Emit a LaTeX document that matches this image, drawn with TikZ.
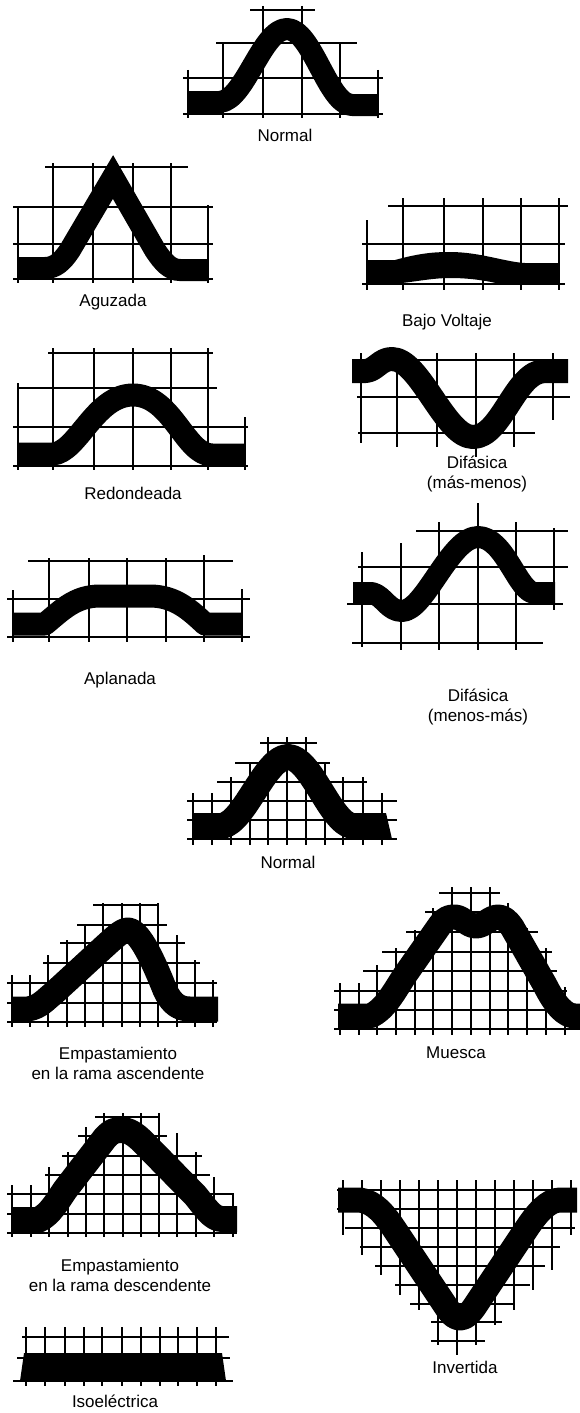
\documentclass[tikz,border=0pt]{standalone}
\usepackage{fontspec}
\setmainfont{Liberation Sans}
\begin{document}
\begin{tikzpicture}[x=1pt,y=-1pt,
  gridline/.style={line width=1.6pt},
  wave/.style={line width=23pt, line cap=butt, line join=round},
  lbl/.style={font=\fontsize{17}{20}\selectfont, align=center, inner sep=0pt}]
\useasboundingbox (0,0) rectangle (580,1413);

% ---------- Panel 1: Normal (top)
\foreach \x/\t in {188/70,223/43,263/6,302/6,340/43,378/70} \draw[gridline] (\x,\t) -- (\x,118);
\draw[gridline] (250,10) -- (315,10) (216,43) -- (357,43) (183,78) -- (383,78) (183,114) -- (383,114);
\draw[wave, line width=22pt] (188,102) -- (220,102) .. controls (245,100) and (262,29) .. (287,29) .. controls (312,29) and (328,105) .. (352,105) -- (378,105);
\node[lbl] (n1) at (285,135) {Normal};

% ---------- Panel 2: Aguzada
\foreach \x/\t in {18/207,53/163,93/163,133/163,171/163,208/205} \draw[gridline] (\x,\t) -- (\x,283);
\draw[gridline] (45,167) -- (188,167) (13,207) -- (213,207) (13,244) -- (213,244) (13,279) -- (213,279);
\draw[wave, line width=22pt, line join=miter] (18,268) -- (45,268) .. controls (55,268) and (62,262) .. (70,250) -- (113,177) -- (155,250) .. controls (163,262) and (170,270) .. (180,270) -- (208,270);
\node[lbl] (n2) at (113,302) {Aguzada};

% ---------- Panel 3: Bajo Voltaje
\foreach \x/\t in {367/220,403/198,444/198,483/198,521/198,559/198} \draw[gridline] (\x,\t) -- (\x,290);
\draw[gridline] (388,206) -- (568,206) (362,244) -- (565,244) (362,284) -- (565,284);
\fill (367,260) -- (395,260) .. controls (420,253) and (435,252) .. (450,252) .. controls (480,252) and (505,262) .. (525,263) -- (559,263) -- (559,284) -- (500,284) .. controls (480,279) and (462,278) .. (450,278) .. controls (430,278) and (410,283) .. (390,284) -- (367,284) -- cycle;
\node[lbl] (n3) at (447,322) {Bajo Voltaje};

% ---------- Panel 4: Redondeada
\foreach \x/\t/\b in {18/383/470,53/348/470,94/348/470,133/348/470,171/348/470,208/348/470,245/417/470} \draw[gridline] (\x,\t) -- (\x,\b);
\draw[gridline] (48,353) -- (213,353) (17,388) -- (217,388) (13,427) -- (248,427) (13,466) -- (248,466);
\draw[wave] (18,454) -- (53,454) .. controls (78,452) and (95,395) .. (133,395) .. controls (172,395) and (185,455) .. (212,455) -- (245,455);
\node[lbl] (n4) at (133,493) {Redondeada};

% ---------- Panel 5: Difasica mas-menos
\foreach \x/\b in {361/443,397/447,437/447,476/457,514/447,553/420} \draw[gridline] (\x,353) -- (\x,\b);
\draw[gridline] (413,360) -- (553,360) (357,397) -- (570,397) (358,433) -- (535,433);
\draw[wave, line width=24pt] (352,371) -- (366,371) .. controls (376,370) and (380,359) .. (392,359) .. controls (420,359) and (445,437) .. (473,437) .. controls (502,437) and (515,371) .. (545,371) -- (568,371);
\node[lbl] (n5) at (477,474) {Difásica\\(más-menos)};

% ---------- Panel 6: Difasica menos-mas
\foreach \x/\t/\b in {362/552/647,401/543/650,439/522/650,478/503/650,516/522/650,554/528/610} \draw[gridline] (\x,\t) -- (\x,\b);
\draw[gridline] (416,531) -- (568,531) (358,567) -- (568,567) (347,604) -- (563,604) (352,643) -- (543,643);
\draw[wave, line width=22pt] (353,593) -- (372,593) .. controls (384,596) and (388,611) .. (402,611) .. controls (425,611) and (450,537) .. (478,537) .. controls (505,537) and (518,593) .. (535,593) -- (555,593);
\node[lbl] (n6) at (478,707) {Difásica\\(menos-más)};

% ---------- Panel 7: Aplanada
\foreach \x/\t in {13/590,49/558,89/558,127/558,166/558,204/555,242/589} \draw[gridline] (\x,\t) -- (\x,642);
\draw[gridline] (28,561) -- (233,561) (7,599) -- (250,599) (7,637) -- (250,637);
\draw[wave] (13,624) -- (45,624) .. controls (62,610) and (75,596) .. (100,596) -- (150,596) .. controls (175,596) and (190,610) .. (205,624) -- (242,624);
\node[lbl] (n7) at (120,680) {Aplanada};

% ---------- Panel 8: Normal (fine grid)
\foreach \x/\t in {193/793,212/793,231/777,250/762,268/737,287/737,306/737,325/762,343/777,363/777,382/793} \draw[gridline] (\x,\t) -- (\x,845);
\draw[gridline] (260,743) -- (317,743) (235,763) -- (330,763) (217,782) -- (367,782) (187,801) -- (397,801) (187,820) -- (397,820) (187,839) -- (397,839);
\draw[wave, line width=26pt] (193,826) -- (222,826) .. controls (245,822) and (265,757) .. (288,757) .. controls (311,757) and (330,822) .. (352,826) -- (385,826);
\fill (384,813) -- (386,813) -- (392,839) -- (384,839) -- cycle;
\node[lbl] (n8) at (288,862) {Normal};

% ---------- Panel 9: Empastamiento rama ascendente
\foreach \x/\t in {12/975,30/975,48/955,67/940,85/925,103/903,122/903,140/903,158/903,177/935,195/960,213/980} \draw[gridline] (\x,\t) -- (\x,1027);
\draw[gridline] (93,905) -- (158,905) (77,925) -- (167,925) (60,943) -- (185,943) (43,963) -- (200,963) (7,983) -- (217,983) (7,1003) -- (217,1003) (7,1022) -- (217,1022);
\draw[wave, line width=25pt] (12,1009) -- (28,1009) .. controls (40,1007) and (45,1000) .. (55,992) -- (105,946) .. controls (115,937) and (122,930) .. (128,930) .. controls (140,930) and (155,965) .. (165,990) .. controls (172,1005) and (180,1009) .. (190,1009) -- (218,1009);
\node[lbl] (n9) at (118,1063) {Empastamiento\\en la rama ascendente};

% ---------- Panel 10: Muesca
\foreach \x/\t in {340/983,359/983,377/965,396/948,415/930,433/908,452/887,471/887,490/887,508/903,527/928,546/948,565/987} \draw[gridline] (\x,\t) -- (\x,1035);
\draw[gridline] (439,893) -- (500,893) (425,912) -- (510,912) (406,932) -- (538,932) (382,952) -- (552,952) (363,971) -- (557,971) (334,991) -- (567,991) (334,1010) -- (580,1010) (334,1029) -- (580,1029);
\draw[wave, line width=25pt] (338,1016) -- (370,1016) .. controls (385,1010) and (395,990) .. (405,975) -- (440,925) .. controls (446,917) and (450,917) .. (455,917) .. controls (462,917) and (468,926) .. (476,926) .. controls (484,926) and (490,917) .. (498,917) .. controls (503,917) and (507,920) .. (512,927) -- (545,985) .. controls (555,1005) and (565,1016) .. (575,1016) -- (580,1016);
\node[lbl] (n10) at (456,1053) {Muesca};

% ---------- Panel 11: Empastamiento rama descendente
\foreach \x/\t in {12/1185,31/1185,49/1167,68/1152,86/1127,104/1113,123/1113,141/1113,159/1113,177/1133,196/1152,214/1177,233/1193} \draw[gridline] (\x,\t) -- (\x,1237);
\draw[gridline] (95,1117) -- (158,1117) (78,1136) -- (167,1136) (62,1156) -- (202,1156) (45,1175) -- (210,1175) (7,1194) -- (233,1194) (7,1214) -- (237,1214) (7,1233) -- (237,1233);
\draw[wave, line width=26pt] (12,1220) -- (38,1220) .. controls (50,1215) and (58,1200) .. (65,1190) -- (105,1138) .. controls (112,1130) and (117,1130) .. (122,1130) .. controls (128,1130) and (135,1134) .. (142,1141) -- (195,1195) .. controls (205,1207) and (212,1219) .. (222,1219) -- (237,1219);
\node[lbl] (n11) at (120,1275) {Empastamiento\\en la rama descendente};

% ---------- Panel 12: Invertida
\foreach \x/\b in {343/1235,362/1255,381/1275,400/1295,419/1310,438/1345,457/1355,476/1345,495/1325,514/1310,533/1290,552/1270,571/1235} \draw[gridline] (\x,1180) -- (\x,\b);
\draw[gridline] (337,1190) -- (577,1190) (337,1209) -- (577,1209) (345,1228) -- (575,1228) (360,1247) -- (560,1247) (375,1266) -- (545,1266) (395,1285) -- (530,1285) (410,1304) -- (515,1304) (431,1322) -- (502,1322) (431,1341) -- (485,1341);
\draw[wave, line width=25pt] (338,1200) -- (360,1200) .. controls (375,1202) and (385,1215) .. (395,1230) -- (445,1305) .. controls (452,1316) and (456,1318) .. (460,1318) .. controls (465,1318) and (470,1314) .. (477,1303) -- (527,1228) .. controls (537,1213) and (548,1200) .. (560,1200) -- (577,1200);
\node[lbl] (n12) at (465,1367) {Invertida};

% ---------- Panel 13: Isoelectrica
\foreach \x in {26,45,65,84,102,122,141,160,178,197,216} \draw[gridline] (\x,1327) -- (\x,1386);
\draw[gridline] (22,1337) -- (229,1337) (17,1358) -- (230,1358) (13,1381) -- (233,1381);
\fill (24,1353) -- (222,1353) -- (226,1381) -- (20,1381) -- cycle;
\node[lbl] (n13) at (115,1401) {Isoeléctrica};
\end{tikzpicture}
\end{document}
